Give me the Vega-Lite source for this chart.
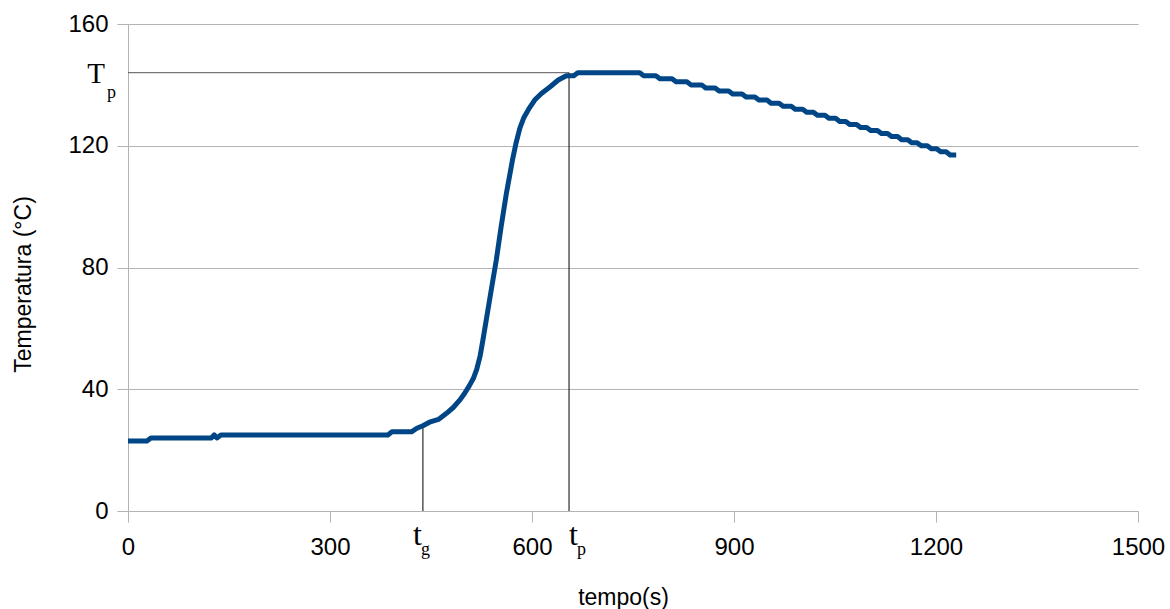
{
  "$schema": "https://vega.github.io/schema/vega-lite/v6.json",
  "width": 1010,
  "height": 487,
  "autosize": {"type": "none"},
  "padding": {"left": 128, "top": 24, "right": 32, "bottom": 98},
  "background": "white",
  "config": {"view": {"stroke": null}, "font": "Liberation Sans"},
  "datasets": {
    "curve": [
      {"t": 0, "T": 23}, {"t": 28, "T": 23}, {"t": 34, "T": 24}, {"t": 124, "T": 24},
      {"t": 128, "T": 25}, {"t": 132, "T": 24}, {"t": 138, "T": 25}, {"t": 386, "T": 25},
      {"t": 392, "T": 26}, {"t": 421, "T": 26}, {"t": 429, "T": 27.2}, {"t": 438, "T": 28},
      {"t": 449, "T": 29.3}, {"t": 461, "T": 30.1}, {"t": 473, "T": 32.1}, {"t": 483, "T": 34},
      {"t": 493, "T": 36.5}, {"t": 500, "T": 38.7}, {"t": 507, "T": 41.2}, {"t": 513, "T": 43.6},
      {"t": 518, "T": 46.6}, {"t": 523, "T": 51}, {"t": 527, "T": 56}, {"t": 533, "T": 64},
      {"t": 539, "T": 72}, {"t": 547, "T": 82.5}, {"t": 554, "T": 93.2}, {"t": 562, "T": 104.4},
      {"t": 571, "T": 115.3}, {"t": 576, "T": 120.6}, {"t": 582, "T": 125.8}, {"t": 588, "T": 129.3},
      {"t": 595, "T": 132}, {"t": 604, "T": 135}, {"t": 614, "T": 137.2}, {"t": 627, "T": 139.4},
      {"t": 639, "T": 141.6}, {"t": 651, "T": 143}, {"t": 662, "T": 143}, {"t": 668, "T": 144},
      {"t": 760, "T": 144},
      {"t": 766, "T": 143}, {"t": 784, "T": 143}, {"t": 790, "T": 142}, {"t": 808, "T": 142},
      {"t": 814, "T": 141}, {"t": 830, "T": 141}, {"t": 836, "T": 140}, {"t": 852, "T": 140},
      {"t": 858, "T": 139}, {"t": 872, "T": 139}, {"t": 878, "T": 138}, {"t": 892, "T": 138},
      {"t": 898, "T": 137}, {"t": 912, "T": 137}, {"t": 918, "T": 136}, {"t": 931, "T": 136},
      {"t": 937, "T": 135}, {"t": 949, "T": 135}, {"t": 955, "T": 134}, {"t": 967, "T": 134},
      {"t": 973, "T": 133}, {"t": 985, "T": 133}, {"t": 991, "T": 132}, {"t": 1002, "T": 132},
      {"t": 1008, "T": 131}, {"t": 1018, "T": 131}, {"t": 1024, "T": 130}, {"t": 1035, "T": 130},
      {"t": 1041, "T": 129}, {"t": 1051, "T": 129}, {"t": 1057, "T": 128}, {"t": 1066, "T": 128},
      {"t": 1072, "T": 127}, {"t": 1082, "T": 127}, {"t": 1088, "T": 126}, {"t": 1097, "T": 126},
      {"t": 1103, "T": 125}, {"t": 1113, "T": 125}, {"t": 1119, "T": 124}, {"t": 1128, "T": 124},
      {"t": 1134, "T": 123}, {"t": 1143, "T": 123}, {"t": 1149, "T": 122}, {"t": 1158, "T": 122},
      {"t": 1164, "T": 121}, {"t": 1172, "T": 121}, {"t": 1178, "T": 120}, {"t": 1187, "T": 120},
      {"t": 1193, "T": 119}, {"t": 1201, "T": 119}, {"t": 1207, "T": 118}, {"t": 1215, "T": 118},
      {"t": 1221, "T": 117}, {"t": 1230, "T": 117}
    ]
  },
  "layer": [
    {
      "data": {"values": [{"t": 0, "t2": 655, "T": 144}]},
      "mark": {"type": "rule", "color": "#555555", "strokeWidth": 1},
      "encoding": {
        "x": {"field": "t", "type": "quantitative", "scale": {"domain": [0, 1500], "nice": false}},
        "x2": {"field": "t2"},
        "y": {"field": "T", "type": "quantitative", "scale": {"domain": [0, 160], "nice": false}}
      }
    },
    {
      "data": {"values": [{"t": 438, "T": 0, "T2": 28}, {"t": 655, "T": 0, "T2": 144}]},
      "mark": {"type": "rule", "color": "#000000", "strokeWidth": 1},
      "encoding": {
        "x": {"field": "t", "type": "quantitative"},
        "y": {"field": "T", "type": "quantitative"},
        "y2": {"field": "T2"}
      }
    },
    {
      "data": {"name": "curve"},
      "mark": {"type": "line", "color": "#004586", "strokeWidth": 5, "strokeJoin": "round", "strokeCap": "butt"},
      "encoding": {
        "x": {
          "field": "t", "type": "quantitative",
          "axis": {
            "title": "tempo(s)", "values": [0, 300, 600, 900, 1200, 1500], "format": "d", "grid": false,
            "domainColor": "#b3b3b3", "tickColor": "#b3b3b3", "tickSize": 11,
            "labelFont": "Liberation Sans", "labelFontSize": 24, "labelColor": "#000000", "labelPadding": 13,
            "labelOverlap": false, "labelFlush": false,
            "titleFont": "Liberation Sans", "titleFontSize": 23, "titleFontWeight": "normal", "titleColor": "#000000",
            "titleX": 495, "titleY": 86, "titleBaseline": "middle", "titleAlign": "center"
          }
        },
        "y": {
          "field": "T", "type": "quantitative",
          "axis": {
            "title": "Temperatura (°C)", "values": [0, 40, 80, 120, 160], "format": "d", "grid": true, "gridColor": "#b3b3b3",
            "domainColor": "#b3b3b3", "tickColor": "#b3b3b3", "tickSize": 11,
            "labelFont": "Liberation Sans", "labelFontSize": 24, "labelColor": "#000000", "labelPadding": 9,
            "labelOverlap": false, "labelFlush": false,
            "titleFont": "Liberation Sans", "titleFontSize": 23, "titleFontWeight": "normal", "titleColor": "#000000",
            "titleX": -105, "titleY": 260, "titleBaseline": "middle", "titleAlign": "center", "titleAngle": 270
          }
        }
      }
    },
    {
      "data": {"values": [{"t": 0, "T": 144, "main": "T", "sub": "p"}]},
      "layer": [
        {
          "mark": {"type": "text", "font": "Liberation Serif", "fontSize": 29, "align": "right", "baseline": "alphabetic", "dx": -23, "dy": 10, "color": "#000000"},
          "encoding": {"x": {"field": "t", "type": "quantitative"}, "y": {"field": "T", "type": "quantitative"}, "text": {"field": "main"}}
        },
        {
          "mark": {"type": "text", "font": "Liberation Serif", "fontSize": 18, "align": "left", "baseline": "alphabetic", "dx": -21, "dy": 25, "color": "#000000"},
          "encoding": {"x": {"field": "t", "type": "quantitative"}, "y": {"field": "T", "type": "quantitative"}, "text": {"field": "sub"}}
        }
      ]
    },
    {
      "data": {"values": [{"t": 438, "T": 0, "main": "t", "sub": "g"}]},
      "layer": [
        {
          "mark": {"type": "text", "font": "Liberation Serif", "fontSize": 32, "align": "left", "baseline": "alphabetic", "dx": -10, "dy": 34, "color": "#000000"},
          "encoding": {"x": {"field": "t", "type": "quantitative"}, "y": {"field": "T", "type": "quantitative"}, "text": {"field": "main"}}
        },
        {
          "mark": {"type": "text", "font": "Liberation Serif", "fontSize": 18, "align": "left", "baseline": "alphabetic", "dx": -2, "dy": 44, "color": "#000000"},
          "encoding": {"x": {"field": "t", "type": "quantitative"}, "y": {"field": "T", "type": "quantitative"}, "text": {"field": "sub"}}
        }
      ]
    },
    {
      "data": {"values": [{"t": 655, "T": 0, "main": "t", "sub": "p"}]},
      "layer": [
        {
          "mark": {"type": "text", "font": "Liberation Serif", "fontSize": 32, "align": "left", "baseline": "alphabetic", "dx": 0, "dy": 34, "color": "#000000"},
          "encoding": {"x": {"field": "t", "type": "quantitative"}, "y": {"field": "T", "type": "quantitative"}, "text": {"field": "main"}}
        },
        {
          "mark": {"type": "text", "font": "Liberation Serif", "fontSize": 18, "align": "left", "baseline": "alphabetic", "dx": 8, "dy": 44, "color": "#000000"},
          "encoding": {"x": {"field": "t", "type": "quantitative"}, "y": {"field": "T", "type": "quantitative"}, "text": {"field": "sub"}}
        }
      ]
    }
  ]
}
